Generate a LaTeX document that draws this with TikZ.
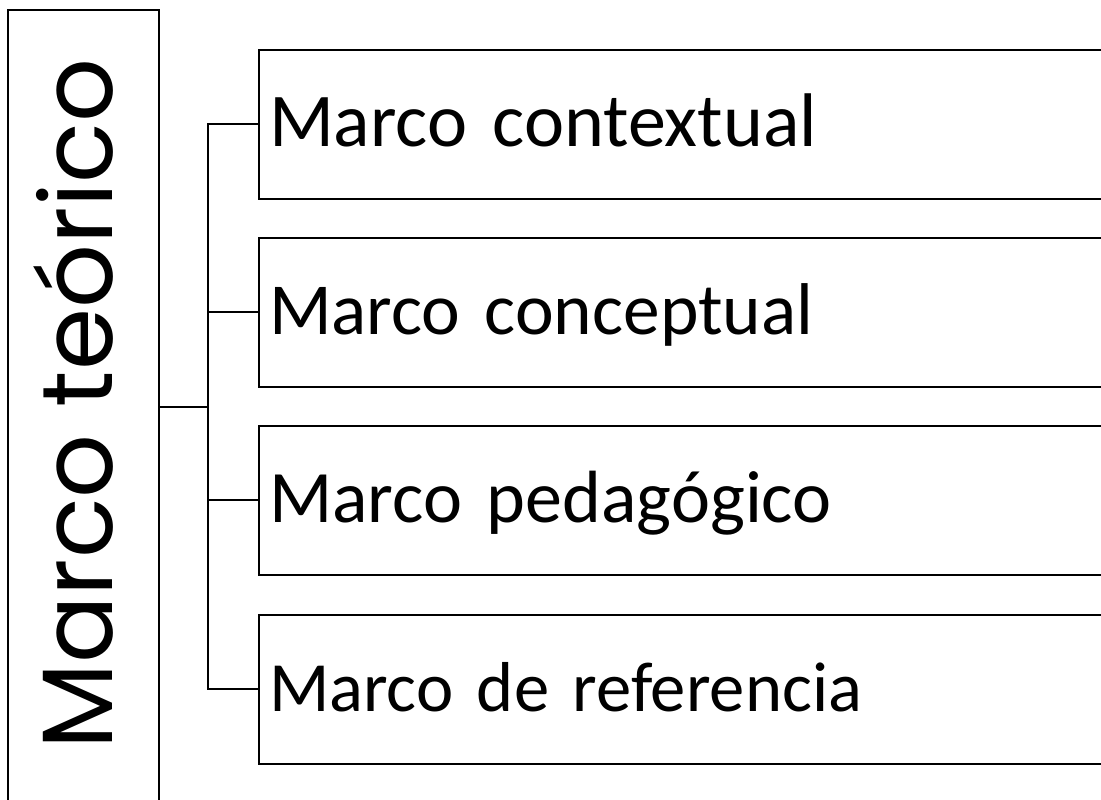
\documentclass[tikz,border=0pt]{standalone}
\usepackage{fontspec}
\setmainfont{Carlito}[WordSpace=0.85]
\newfontfamily\titlefont{Poppins}
\usetikzlibrary{positioning}

\begin{document}
\begin{tikzpicture}[x=0.75pt,y=-0.75pt,line width=1.5pt,
 mainbox/.style={draw, rectangle, inner sep=0pt, minimum width=151*0.75pt, minimum height=830*0.75pt},
 titletext/.style={rotate=90, inner sep=0pt, font=\titlefont\fontsize{75}{85}\selectfont},
 partbox/.style={draw, rectangle, inner ysep=0pt, inner xsep=10*0.75pt, minimum height=149*0.75pt, text width=880*0.75pt, align=left, text height=40pt, text depth=7pt},
 link/.style={line width=1.3pt}]
\clip (0,0) rectangle (1101,800);
\fill[white] (0,0) rectangle (1101,800);
\node[mainbox] (theory) at (83.5,425) {};
\node[titletext] (title) at (73,404) {Marco teórico};
\node[partbox, anchor=west, font=\fontsize{57}{64}\selectfont] (context) at (258,124) {Marco contextual};
\node[partbox, anchor=west, font=\fontsize{55}{62}\selectfont] (concept) at (258,312) {Marco conceptual};
\node[partbox, anchor=west, font=\fontsize{55.5}{62}\selectfont] (pedag) at (258,500) {Marco pedagógico};
\node[partbox, anchor=west, font=\fontsize{53}{60}\selectfont] (refer) at (258,689) {Marco de referencia};
\coordinate (fork) at (208,407);
% tree
\draw[link] (context.west) -| (fork) |- (refer.west);
\draw[link] (fork |- concept.west) -- (concept.west);
\draw[link] (fork |- pedag.west) -- (pedag.west);
\draw[link] (theory.east |- fork) -- (fork);
\end{tikzpicture}
\end{document}
